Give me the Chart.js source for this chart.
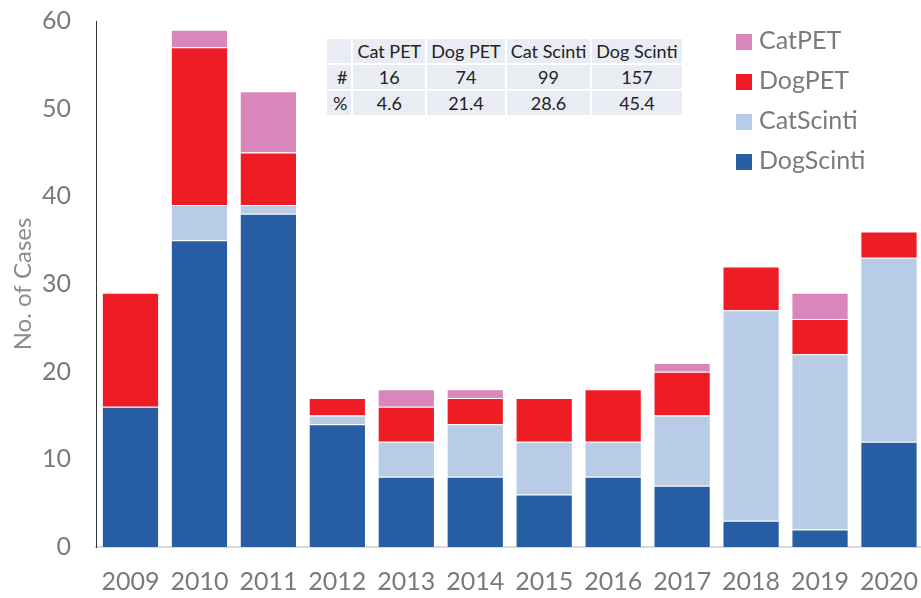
<!DOCTYPE html>
<html>
<head>
<meta charset="utf-8">
<script src="https://cdn.jsdelivr.net/npm/chart.js@4.4.0/dist/chart.umd.min.js"></script>
<style>
  html, body { margin:0; padding:0; background:#fff; }
  #wrap { position:relative; width:921px; height:598px; overflow:hidden; font-family:Lato, "Open Sans", sans-serif; }
  #chart { position:absolute; left:0; top:-11px; }
  #summary { position:absolute; left:325px; top:37px; border-collapse:collapse; background:#e9ecf2; font-size:18px; color:#222; }
  #summary td { border:2px solid #fff; height:24px; padding:0 4px; text-align:center; }
  #summary td.rh { text-align:right; width:14px; padding:0 4px 0 6px; }
  #legend { position:absolute; left:736px; top:22px; color:#7a7a7a; font-size:25px; }
  #legend div { height:40px; line-height:34px; white-space:nowrap; }
  #legend span { display:inline-block; width:16px; height:16px; margin-right:7px; vertical-align:-1px; }
</style>
</head>
<body>
<div id="wrap">
  <canvas id="chart" width="930" height="609"></canvas>
  <table id="summary"></table>
  <div id="legend"></div>
</div>
<script>
  const years      = ['2009','2010','2011','2012','2013','2014','2015','2016','2017','2018','2019','2020'];
  const dogScinti  = [16, 35, 38, 14, 8, 8, 6, 8, 7, 3, 2, 12];
  const catScinti  = [0, 4, 1, 1, 4, 6, 6, 4, 8, 24, 20, 21];
  const dogPET     = [13, 18, 6, 2, 4, 3, 5, 6, 5, 5, 4, 3];
  const catPET     = [0, 2, 7, 0, 2, 1, 0, 0, 1, 0, 3, 0];
  const yTicks     = [0, 10, 20, 30, 40, 50, 60];

  const grey = '#7a7a7a';

  // stacked bottom -> top
  const series = [
    { label:'DogScinti', data:dogScinti, color:'#275ea3', head:'Dog Scinti' },
    { label:'CatScinti', data:catScinti, color:'#b8cbe7', head:'Cat Scinti' },
    { label:'DogPET',    data:dogPET,    color:'#ee1d25', head:'Dog PET' },
    { label:'CatPET',    data:catPET,    color:'#d987ba', head:'Cat PET' }
  ];

  new Chart(document.getElementById('chart'), {
    type:'bar',
    data:{
      labels: years,
      datasets: series.map(s => ({
        label:s.label, data:s.data, backgroundColor:s.color,
        borderColor:'rgba(255,255,255,0.8)', borderWidth:{ top:1, left:1, right:1, bottom:0 },
        barPercentage:0.83, categoryPercentage:1
      }))
    },
    options:{
      responsive:false,
      animation:false,
      layout:{ padding:{ top:4, right:0, left:0, bottom:0 } },
      plugins:{ legend:{ display:false }, tooltip:{ enabled:false } },
      scales:{
        x:{
          stacked:true,
          grid:{ display:false },
          border:{ display:true, color:'#d9d9d9', width:2 },
          ticks:{ color:grey, font:{ family:'Lato', size:25 }, padding:12 },
          afterFit: s => { s.height = 51; }
        },
        y:{
          stacked:true, min:0, max:60,
          afterBuildTicks: s => { s.ticks = yTicks.map(v => ({ value:v })); },
          grid:{ display:false },
          border:{ display:true, color:'#333', width:1 },
          ticks:{ color:grey, font:{ family:'Lato', size:25 }, padding:17 },
          title:{ display:true, text:'No. of Cases', color:'#8c8c8c', font:{ family:'Lato', size:24 }, padding:{ top:9, bottom:0 } },
          afterFit: s => { s.width = 96; }
        }
      }
    }
  });

  // summary table: totals and shares per group
  const cols = [...series].reverse();
  const totals = cols.map(s => s.data.reduce((a,b) => a+b, 0));
  const all = totals.reduce((a,b) => a+b, 0);
  document.getElementById('summary').innerHTML =
    '<tr><td class="rh"></td>' + cols.map(s => `<td>${s.head}</td>`).join('') + '</tr>' +
    '<tr><td class="rh">#</td>' + totals.map(t => `<td>${t}</td>`).join('') + '</tr>' +
    '<tr><td class="rh">%</td>' + totals.map(t => `<td>${(t/all*100).toFixed(1)}</td>`).join('') + '</tr>';

  document.getElementById('legend').innerHTML =
    cols.map(s => `<div><span style="background:${s.color}"></span>${s.label}</div>`).join('');
</script>
</body>
</html>
